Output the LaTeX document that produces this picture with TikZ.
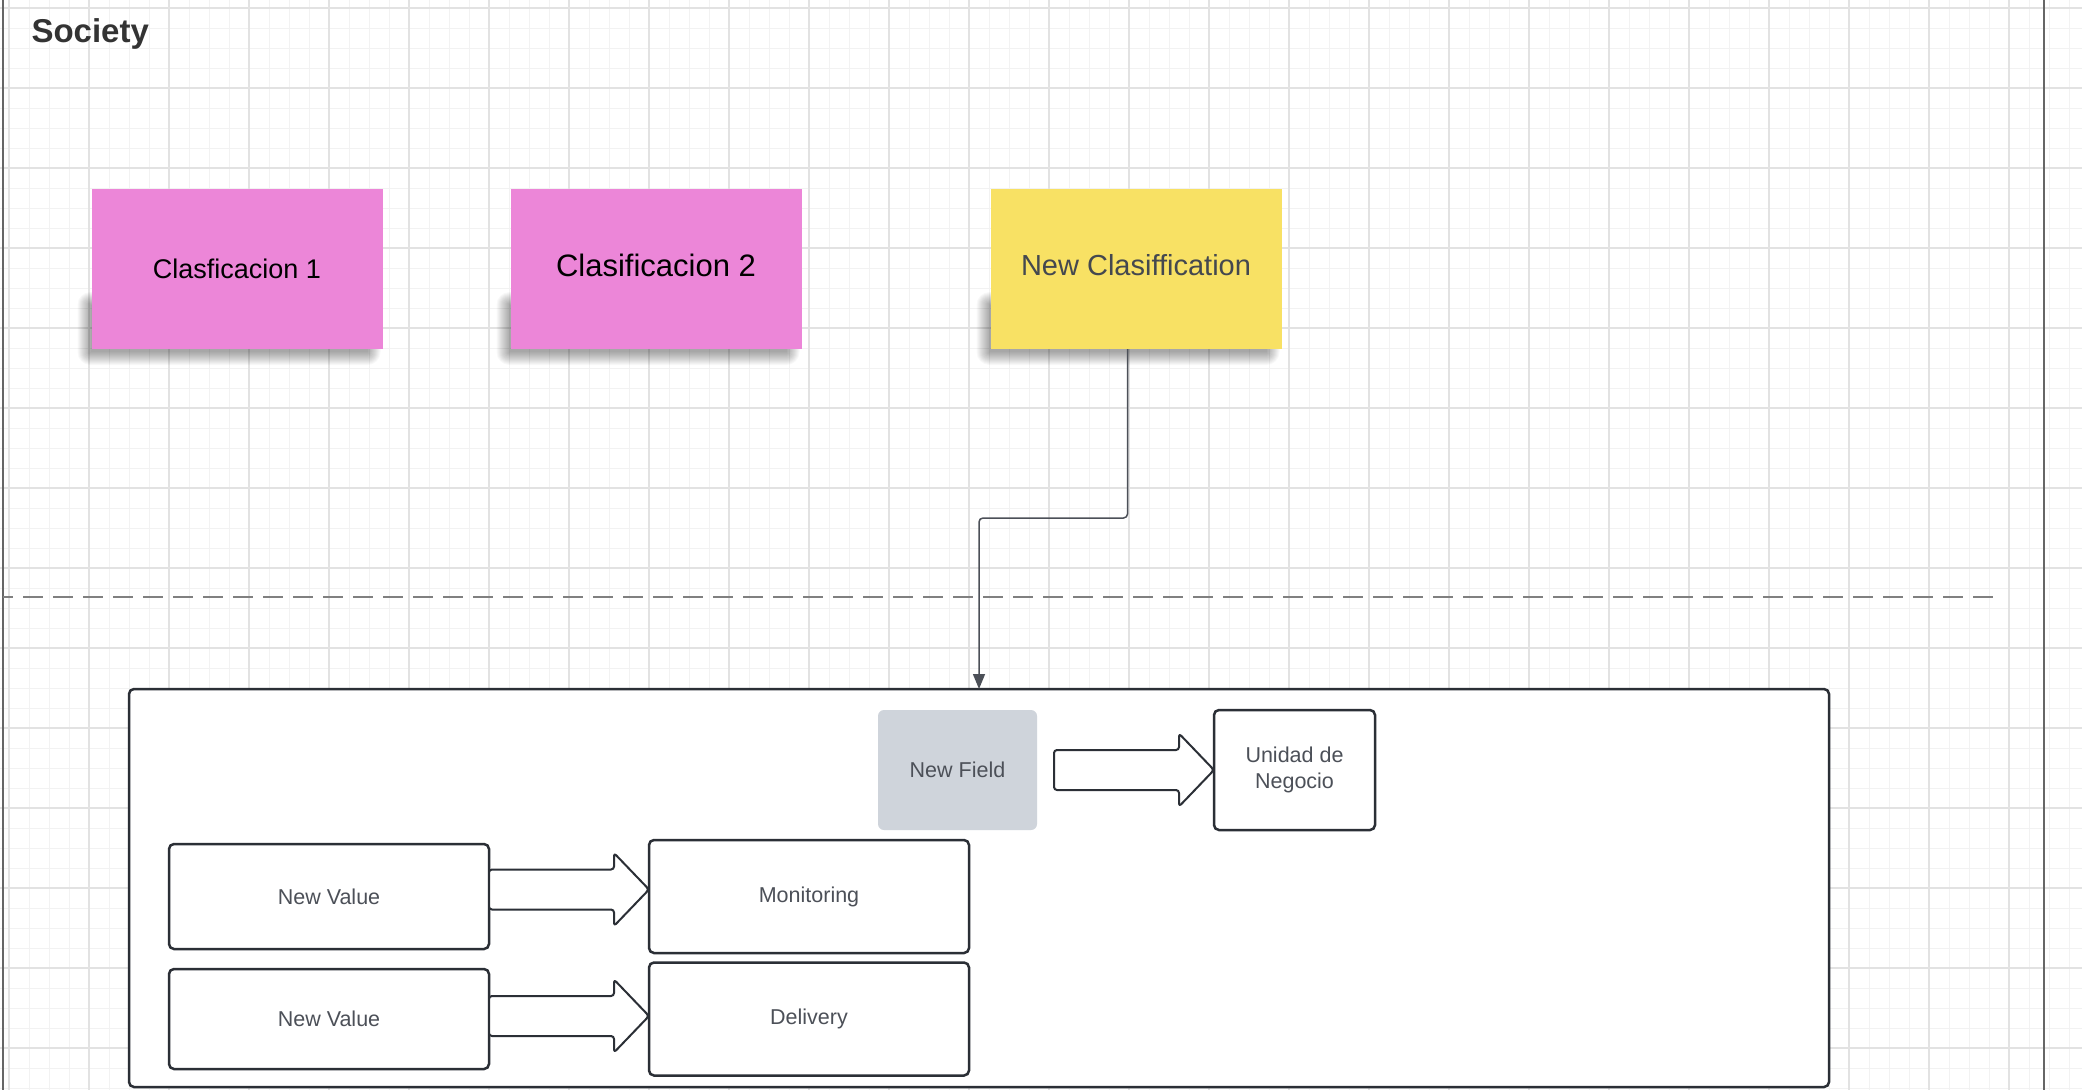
\documentclass[tikz,border=0pt]{standalone}
\usepackage{fontspec}
\setmainfont{Liberation Sans}
\usepackage{xcolor}
\usetikzlibrary{positioning,arrows.meta,calc}

\definecolor{notepink}{RGB}{236,134,216}
\definecolor{noteyellow}{RGB}{248,225,100}
\definecolor{fieldgray}{RGB}{207,212,219}
\definecolor{inkdark}{RGB}{43,47,54}
\definecolor{textgray}{RGB}{76,80,88}
\definecolor{gridminor}{RGB}{242,242,242}
\definecolor{gridmajor}{RGB}{226,226,226}

\pgfdeclarelayer{gridlayer}
\pgfdeclarelayer{shadelayer}
\pgfsetlayers{gridlayer,shadelayer,main}

\newcommand\fatarrow[2]{%
  \draw[fat] let \p1=#1, \p2=#2 in
    (\x1,\y1+20pt) -- (\x2-35pt,\y1+20pt) -- (\x2-35pt,\y1+36.5pt) -- (\x2,\y1)
    -- (\x2-35pt,\y1-36.5pt) -- (\x2-35pt,\y1-20pt) -- (\x1,\y1-20pt) -- cycle;}

\newcommand\noteshadow[1]{%
  \begin{pgfonlayer}{shadelayer}
    \foreach \k in {0,...,13}
      \fill[black, opacity=0.026, rounded corners=\k pt]
        ($(#1.south west)+(-1-\k,-44-\k)$) rectangle ($(#1.south east)+(-15+\k,3+\k)$);
  \end{pgfonlayer}}

\begin{document}
\begin{tikzpicture}[
    x=1pt, y=-1pt,
    node distance = 128pt,
    note/.style = {rectangle, minimum width=291pt, minimum height=160pt, inner sep=0pt, outer sep=0pt},
    box/.style = {rectangle, draw=inkdark, line width=2.5pt, rounded corners=5pt, fill=white,
      minimum width=320pt, inner sep=0pt, outer sep=0pt, text=textgray, font=\fontsize{21.5}{26}\selectfont},
    field/.style = {rectangle, fill=fieldgray, rounded corners=6pt, minimum width=159pt, minimum height=120pt,
      inner sep=0pt, outer sep=0pt, text=textgray, font=\fontsize{21.5}{26}\selectfont},
    frame/.style = {rectangle, draw=inkdark, line width=2.5pt, rounded corners=5pt, fill=white, inner sep=0pt, outer sep=0pt},
    fat/.style = {draw=inkdark, line width=2pt, fill=white, rounded corners=3pt, line join=round},
    link/.style = {draw=textgray, line width=1.5pt, rounded corners=4pt, -{Triangle[length=15pt,width=12pt]}},
    minor/.style = {draw=gridminor, line width=0.9pt},
    major/.style = {draw=gridmajor, line width=1.2pt},
    border/.style = {draw=black!60, line width=2pt},
    split/.style = {draw=black!50, line width=2pt, dash pattern=on 20pt off 10pt, dash phase=10pt}
]

\useasboundingbox (0,0) rectangle (2082,1090);
\begin{pgfonlayer}{gridlayer}
\fill[white] (0,0) rectangle (2082,1090);
\foreach \gx in {9,29,...,2081} \draw[minor] (\gx,0) -- (\gx,1090);
\foreach \gy in {8,28,...,1089} \draw[minor] (0,\gy) -- (2082,\gy);
\foreach \gx in {9,89,...,2081} \draw[major] (\gx,0) -- (\gx,1090);
\foreach \gy in {8,88,...,1089} \draw[major] (0,\gy) -- (2082,\gy);
\end{pgfonlayer}

\draw[border] (2.5,0) -- (2.5,1090);
\draw[border] (2043.5,0) -- (2043.5,1090);
\draw[split] (3,597) -- (2001,597);

\node[anchor=base west, text=black!80, font=\bfseries\fontsize{33}{40}\selectfont] (title) at (28,42) {Society};

\node[note, fill=notepink, font=\fontsize{27}{30}\selectfont] (c1) at (237,269) {Clasficacion 1};
\node[note, fill=notepink, right=of c1, text depth=8pt, font=\fontsize{31}{36}\selectfont] (c2) {Clasificacion 2};
\node[note, fill=noteyellow, right=189pt of c2, text=textgray!90!black, text depth=8pt, font=\fontsize{29}{32}\selectfont] (newc) {New Clasiffication};

\noteshadow{c1}
\noteshadow{c2}
\noteshadow{newc}

\node[frame, anchor=north west, minimum width=1700pt, minimum height=398pt] (container) at (129,689) {};

\node[field] (nf) at (957.5,770) {New Field};
\node[box, minimum width=161pt, minimum height=120pt, right=177pt of nf, align=center] (uni) {Unidad de\\Negocio};

\node[box, anchor=north west, minimum height=105pt] (nv1) at (169,844) {New Value};
\node[box, minimum height=113pt, right=160pt of nv1] (mon) {Monitoring};
\node[box, minimum height=100pt, below=20pt of nv1] (nv2) {New Value};
\node[box, minimum height=113pt, right=160pt of nv2] (del) {Delivery};

\fatarrow{([xshift=17pt]nf.east)}{(uni.west)}
\fatarrow{([yshift=7pt]nv1.east)}{([yshift=7pt]mon.west)}
\fatarrow{([yshift=3pt]nv2.east)}{([yshift=3pt]del.west)}

\coordinate (bend) at (979,518);
\draw[link] ([xshift=-8.5pt]newc.south) |- (bend) -- (bend |- container.north);

\end{tikzpicture}
\end{document}
